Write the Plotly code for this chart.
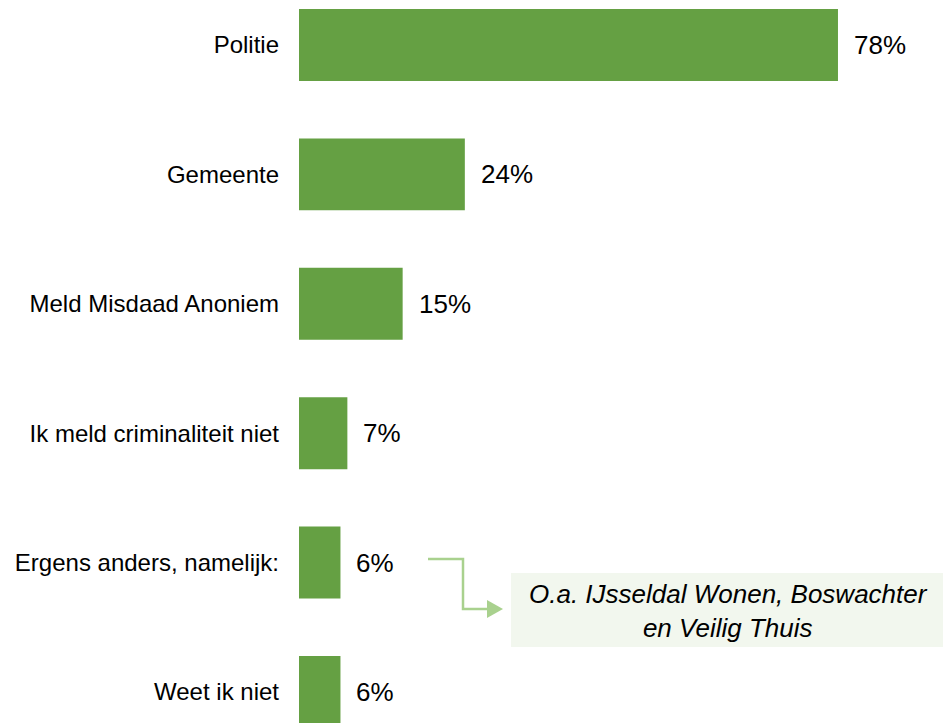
import plotly.graph_objects as go

categories = ["Politie", "Gemeente", "Meld Misdaad Anoniem", "Ik meld criminaliteit niet",
              "Ergens anders, namelijk:", "Weet ik niet"]
values = [78, 24, 15, 7, 6, 6]
value_labels = ["78%", "24%", "15%", "7%", "6%", "6%"]
note_text = "O.a. IJsseldal Wonen, Boswachter<br>en Veilig Thuis"

FONT = "Liberation Sans, Arial, sans-serif"
BAR = "#65A043"
OFF = 8              # page body margin
W, H = 951 - OFF, 723 - OFF
L = 299 - OFF

fig = go.Figure()
fig.add_trace(go.Bar(
    y=categories, x=values, orientation="h",
    marker=dict(color=BAR, line=dict(width=0)),
    width=0.556, hoverinfo="skip",
))

for c, v, t in zip(categories, values, value_labels):
    fig.add_annotation(x=v, y=c, text=t, showarrow=False, xanchor="left",
                       yanchor="middle", xshift=14,
                       font=dict(family=FONT, size=26, color="#000"))

def px(x):  # screenshot px -> paper
    return (x - OFF - L) / (W - L)

def py(y):
    return (723 - y) / H

# connector line
path = f"M {px(428)},{py(559)} L {px(463)},{py(559)} L {px(463)},{py(609)} L {px(489)},{py(609)}"
fig.add_shape(type="path", xref="paper", yref="paper", path=path,
              line=dict(color="#A9D18E", width=2.5))
tri = f"M {px(487)},{py(600)} L {px(503)},{py(609)} L {px(487)},{py(618)} Z"
fig.add_shape(type="path", xref="paper", yref="paper", path=tri,
              line=dict(color="#A9D18E", width=0), fillcolor="#A9D18E")
# note box
fig.add_shape(type="rect", xref="paper", yref="paper",
              x0=px(511), x1=1.0, y0=py(647), y1=py(573),
              line=dict(width=0), fillcolor="#F2F7EE", layer="below")
fig.add_annotation(xref="paper", yref="paper", x=px(728), y=py(611),
                   xanchor="center", yanchor="middle",
                   text=note_text, showarrow=False, align="center",
                   font=dict(family=FONT, size=26, color="#000", style="italic"))

fig.update_layout(
    width=W, height=H,
    margin=dict(l=L, r=0, t=0, b=0, pad=0),
    paper_bgcolor="white", plot_bgcolor="white",
    showlegend=False,
    xaxis=dict(range=[0, (W - L) / 6.91], visible=False, fixedrange=True),
    yaxis=dict(categoryorder="array", categoryarray=list(reversed(categories)),
               range=[-0.2396, -0.2396 + H / 129.4], showgrid=False, zeroline=False,
               showline=False, ticks="", ticklabelstandoff=19,
               tickfont=dict(family=FONT, size=24, color="#000"), fixedrange=True),
    font=dict(family=FONT),
)

fig.write_html("out.html")
